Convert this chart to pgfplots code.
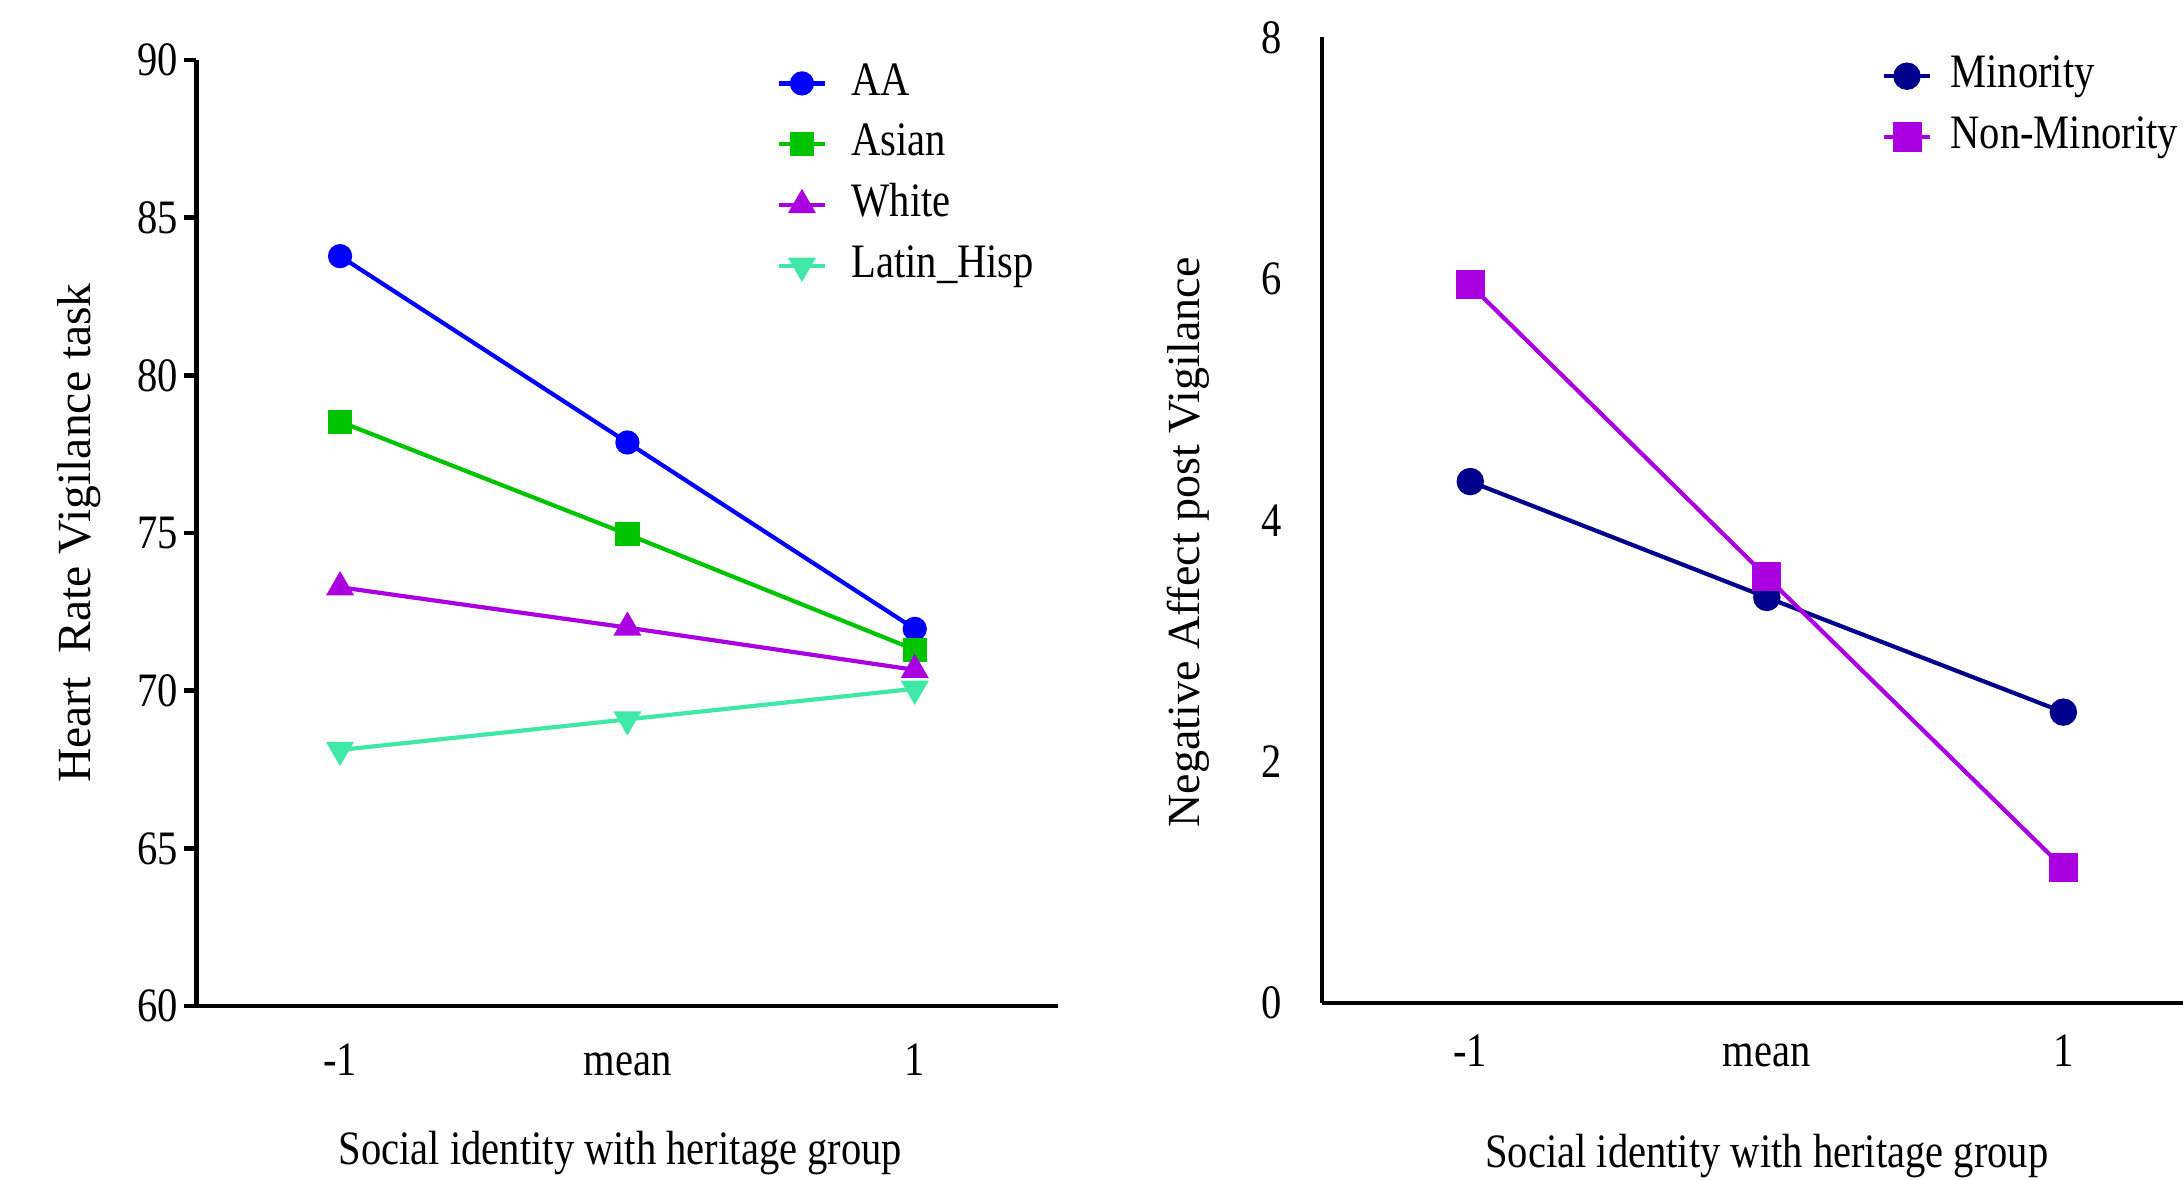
\documentclass[border=0pt]{standalone}
\usepackage{fontspec}
\setmainfont{Liberation Serif}[FakeStretch=0.845]
\newfontfamily\ylabfont{Liberation Serif}
\usepackage{pgfplots}
\pgfplotsset{compat=1.18}
\definecolor{cAA}{RGB}{0,0,255}
\definecolor{cAsian}{RGB}{0,196,0}
\definecolor{cWhite}{RGB}{170,0,225}
\definecolor{cLatin}{RGB}{64,232,168}
\definecolor{cMin}{RGB}{0,0,140}
\definecolor{cNon}{RGB}{170,0,225}
\pgfplotsset{
  common/.style={
    scale only axis,
    axis x line=bottom, axis y line=left,
    axis line style={line width=1.1pt, -},
    xmin=-0.5, xmax=2.5, xtick={0,1,2}, xticklabels={-1,mean,1},
    xtick style={draw=none},
    tick label style={font=\fontsize{12}{14}\selectfont},
    /pgf/number format/assume math mode=true,
    legend cell align=left,
    legend image code/.code={\draw[mark repeat=2,mark phase=2,##1] plot coordinates {(0pt,0pt)(5.85pt,0pt)(11.7pt,0pt)};},
    legend style={draw=none, fill=none, anchor=north west, inner sep=0pt,
      font=\fontsize{12}{14}\selectfont, row sep=2pt,
      nodes={inner sep=1pt, text height=8.5pt, text depth=2.7pt}},
  }
}
\begin{document}
\begin{tikzpicture}
\useasboundingbox (0,0) rectangle (545.75pt,295pt);
\clip (0,0) rectangle (545.75pt,295pt);
% Left panel
\begin{axis}[common,
  at={(49.1pt,43.5pt)}, anchor=south west,
  width=215.5pt, height=236.5pt,
  ymin=60, ymax=90, ytick={60,65,70,75,80,85,90},
  tick align=outside, major tick length=3pt,
  ytick style={line width=1.1pt, black},
  yticklabel style={inner sep=1.5pt},
  xticklabel style={anchor=base, yshift=-14.3pt},
  xlabel={Social identity with heritage group},
  xlabel style={at={([xshift=-1.75pt]axis description cs:0.5,0)}, anchor=base, yshift=-39.5pt, font=\fontsize{12}{14}\selectfont},
  ylabel={\ylabfont Heart\ \ Rate Vigilance task},
  ylabel style={at={([xshift=-26.4pt]axis description cs:0,0.5)}, anchor=base, rotate=0, font=\fontsize{11.9}{14}\selectfont},
  legend style={at={(0.672,1.004)}, /tikz/every odd column/.append style={column sep=5pt}},
]
\addplot[cAA, line width=1.05pt, mark=*, mark size=2.5pt] coordinates {(0,83.78)(1,77.87)(2,71.96)};
\addlegendentry{AA}
\addplot[cAsian, line width=1.05pt, mark=square*, mark size=2.5pt] coordinates {(0,78.53)(1,74.96)(2,71.30)};
\addlegendentry{Asian}
\addplot[cWhite, line width=1.05pt, mark=triangle*, mark size=3pt] coordinates {(0,73.28)(1,72.00)(2,70.66)};
\addlegendentry{White}
\addplot[cLatin, line width=1.05pt, mark=triangle*, mark size=3pt, mark options={rotate=180}] coordinates {(0,68.12)(1,69.09)(2,70.06)};
\addlegendentry{Latin\_Hisp}
\end{axis}
% Right panel
\begin{axis}[common,
  at={(330.5pt,44.25pt)}, anchor=south west,
  width=222.4pt, height=241.4pt,
  ymin=0, ymax=8, ytick={0,2,4,6,8},
  ytick style={draw=none},
  yticklabel style={inner sep=1pt, xshift=-6.75pt},
  xticklabel style={anchor=base, yshift=-13.8pt},
  xlabel={Social identity with heritage group},
  xlabel style={at={(axis description cs:0.5,0)}, anchor=base, yshift=-41.2pt, font=\fontsize{12}{14}\selectfont},
  ylabel={\ylabfont Negative Affect post Vigilance},
  ylabel style={at={([xshift=-30.7pt]axis description cs:0,0.477)}, anchor=base, rotate=0, font=\fontsize{11.5}{14}\selectfont},
  legend style={at={(0.628,0.988)}, /tikz/every odd column/.append style={column sep=3.5pt}},
]
\addplot[cMin, line width=1.05pt, mark=*, mark size=2.9pt] coordinates {(0,4.32)(1,3.36)(2,2.41)};
\addlegendentry{Minority}
\addplot[cNon, line width=1.05pt, mark=square*, mark size=3.1pt] coordinates {(0,5.95)(1,3.53)(2,1.12)};
\addlegendentry{Non-Minority}
\end{axis}
\end{tikzpicture}
\end{document}
